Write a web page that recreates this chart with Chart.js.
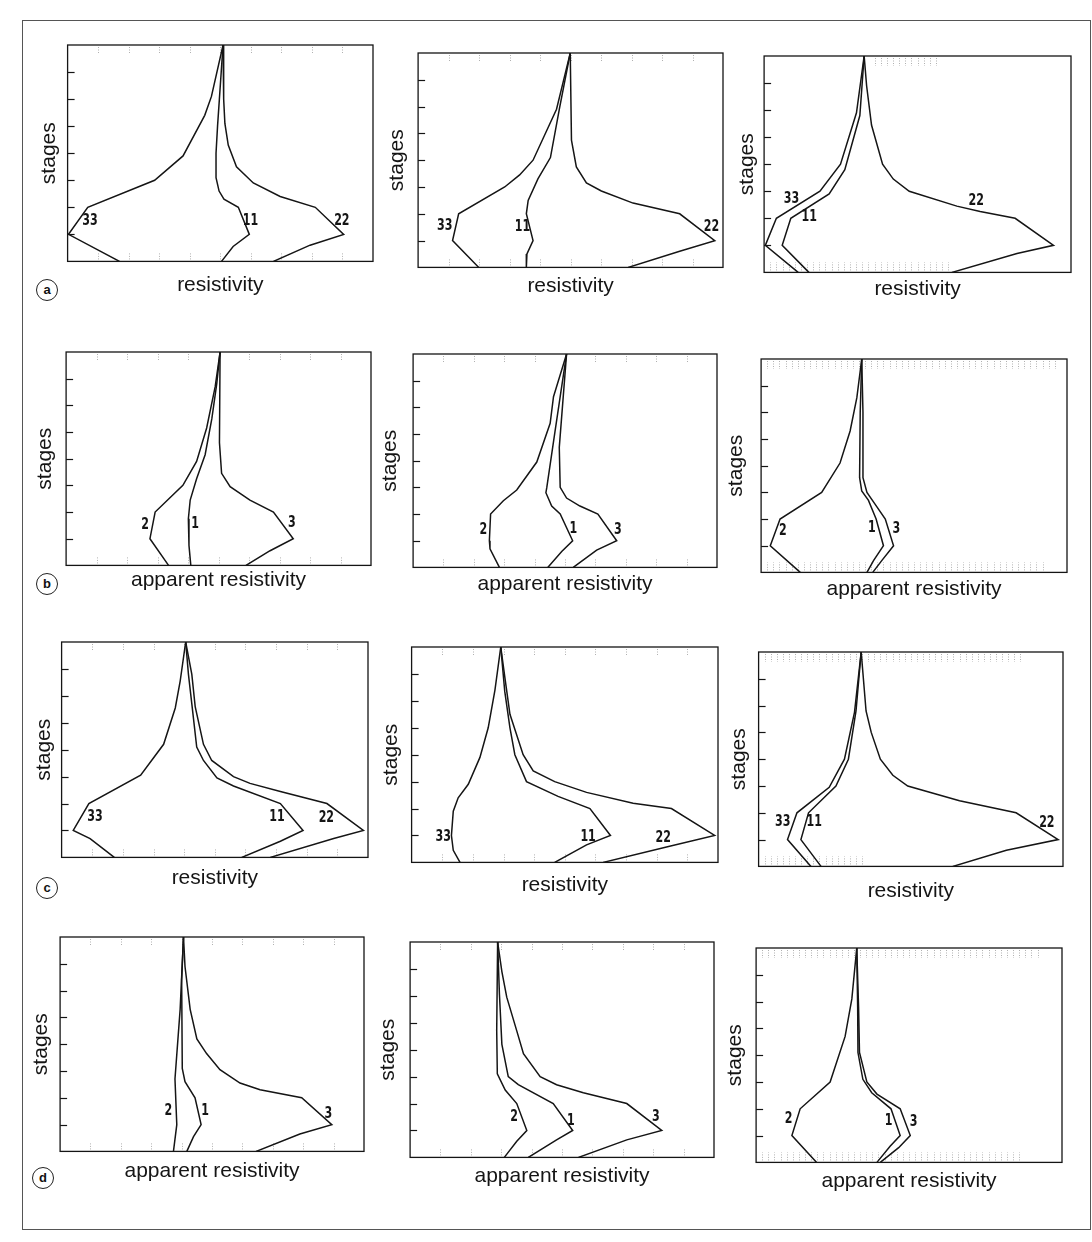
<!DOCTYPE html>
<html>
<head>
<meta charset="utf-8">
<script src="https://cdn.jsdelivr.net/npm/chart.js@4.4.1/dist/chart.umd.min.js"></script>
<style>
  html, body { margin: 0; background: #fff; }
  body { width: 1092px; height: 1242px; position: relative; overflow: hidden; }
  .frame { position: absolute; left: 22px; top: 20px; width: 1067px; height: 1208px; border: 1px solid #555; }
  .tag { position: absolute; width: 20px; height: 20px; border: 1.4px solid #222; border-radius: 50%;
         font: bold 13px "Liberation Sans", Arial, sans-serif; color: #111; text-align: center; line-height: 19px; }
</style>
</head>
<body>
<div class="frame"></div>
<div class="tag" style="left:36px;top:279px">a</div>
<div class="tag" style="left:36px;top:573px">b</div>
<div class="tag" style="left:36px;top:877px">c</div>
<div class="tag" style="left:32px;top:1167px">d</div>
<script>
// curve names
const NAMES_RES = ['33', '11', '22'];
const NAMES_APP = ['2', '1', '3'];

// axis titles
const TITLE_Y = 'stages';
const TITLE_RES = 'resistivity';
const TITLE_APP = 'apparent resistivity';

// stage axis ticks 0..8, resistivity axis 0..100 (arbitrary units)
const STAGE_TICKS = [0, 1, 2, 3, 4, 5, 6, 7, 8];

// each curve: [stage, resistivity]
// row a
const a1_33 = [[8,50.9],[6.1,47.1],[5.4,44.9],[3.9,37.8],[3,28.5],[2,6.6],[1,0.3],[0,17.0]];
const a1_11 = [[8,50.9],[7,50.3],[6,49.7],[5,49.1],[4,48.6],[3.1,48.6],[2.6,49.6],[2.3,51.2],[2,55.9],[1,59.5],[0.55,54.2],[0,50.4]];
const a1_22 = [[8,50.9],[6,51.1],[5.1,51.5],[4.3,52.6],[3.5,55.3],[2.9,60.8],[2.4,69.6],[2,81.1],[1,90.4],[0.6,79.4],[0,67.4]];

const a2_33 = [[8,49.9],[5.9,45.4],[4,37.7],[3.45,33.3],[3,28.4],[2,13.3],[1,11.3],[0,19.9]];
const a2_11 = [[8,49.9],[5.95,46.4],[4.1,43.4],[3.3,39.3],[2.5,36.1],[2,35.5],[1,37.7],[0.5,35.7],[0,35.5]];
const a2_22 = [[8,49.9],[4.75,50.3],[3.75,51.9],[3.15,55.2],[2.85,60.1],[2.4,70.5],[2,85.8],[1,97.3],[0.6,85.8],[0,68.9]];

const a3_33 = [[8,32.6],[5.9,30.1],[4,24.9],[3,18.2],[2,4.0],[1,0.4],[0,11.1]];
const a3_11 = [[8,32.6],[5.8,31.2],[3.8,26.3],[2.9,21.2],[2,8.7],[1,5.9],[0,14.6]];
const a3_22 = [[8,32.6],[6.9,33.4],[5.45,35.0],[4,38.6],[3.45,42.1],[3,47.3],[2.45,62.8],[2.25,70.4],[2,81.8],[1,94.3],[0.7,82.4],[0,61.2]];

// row b
const b1_2 = [[8,50.5],[6.7,48.9],[5.15,46.1],[3.9,42.8],[3,38.3],[2,29.2],[1,27.5],[0,33.6]];
const b1_1 = [[8,50.5],[6.8,49.4],[5.5,47.8],[4.15,45.6],[3.25,42.8],[2.45,40.7],[1.75,40.1],[0.75,40.3],[0,40.9]];
const b1_3 = [[8,50.5],[4.6,50.3],[3.45,51.0],[2.95,53.8],[2.45,60.3],[2,68.0],[1,74.5],[0.55,66.9],[0,59.0]];

const b2_2 = [[8,50.5],[6.4,46.2],[5.4,45.1],[3.95,40.7],[2.9,34.1],[2.5,29.7],[2,25.5],[1,25.1],[0.7,25.3],[0,28.4]];
const b2_1 = [[8,50.5],[6.4,48.4],[5.1,46.7],[3,44.0],[2.8,43.7],[2.3,45.6],[2,48.4],[1,52.5],[0.6,48.9],[0,44.3]];
const b2_3 = [[8,50.5],[4.5,48.1],[3,48.4],[2.6,50.5],[2.3,54.9],[2,60.8],[1,67.0],[0.65,60.4],[0,52.7]];

const b3_2 = [[8,32.9],[6.55,31.3],[5.3,29.1],[4.1,25.8],[3,19.8],[2,6.2],[1,3.0],[0,12.8]];
const b3_1 = [[8,32.9],[6,32.4],[3.55,32.2],[3.05,32.9],[2.7,35.1],[2,37.6],[1,40.0],[0.45,36.8],[0,34.6]];
const b3_3 = [[8,32.9],[6,33.3],[3.55,33.3],[3,34.6],[2.55,37.3],[2,40.6],[1,43.3],[0.45,39.5],[0,36.5]];

// row c
const c1_33 = [[8,40.5],[6.55,38.7],[5.55,37.1],[4.2,33.3],[3.05,25.8],[2,8.9],[1,3.8],[0.7,9.3],[0,17.2]];
const c1_11 = [[8,40.5],[6.8,41.4],[5.7,42.5],[4.1,44.1],[3.6,46.3],[2.95,50.7],[2.65,56.1],[2,71.4],[1,78.8],[0.6,71.4],[0,58.8]];
const c1_22 = [[8,40.5],[6.8,42.5],[5.6,43.6],[4.2,46.3],[3.6,49.0],[3,56.1],[2.75,61.5],[2.45,71.4],[2,86.6],[1,98.5],[0.7,88.8],[0,68.1]];

const c2_33 = [[8,29.1],[6.4,27.2],[5,25.0],[3.9,22.3],[2.9,18.5],[2.4,15.2],[1.9,13.6],[1,13.0],[0.45,13.6],[0,15.8]];
const c2_11 = [[8,29.1],[6.35,30.4],[5,32.1],[4,33.7],[3,37.5],[2.45,47.8],[2,58.2],[1,64.9],[0.65,57.1],[0,46.7]];
const c2_22 = [[8,29.1],[6.9,30.4],[5.5,32.1],[4,36.4],[3.4,39.7],[3,46.7],[2.6,57.1],[2.2,72.3],[2,84.8],[1,98.9],[0.6,84.2],[0,62.5]];

const c3_33 = [[8,33.7],[5.75,31.5],[4,28.2],[2.95,23.2],[2,12.6],[1,9.5],[0,17.2]];
const c3_11 = [[8,33.7],[5.8,32.0],[4,29.5],[3,25.4],[2,16.4],[1,13.9],[0,20.5]];
const c3_22 = [[8,33.7],[5.8,35.3],[5,37.0],[4,40.0],[3.4,44.1],[3,49.0],[2.45,66.0],[2,84.6],[1,98.4],[0.6,81.4],[0,63.8]];

// row d
const d1_2 = [[8,40.6],[5.3,39.5],[2.7,37.8],[1,38.4],[0,37.3]];
const d1_1 = [[8,40.6],[6.4,40.0],[3.1,40.2],[2.6,41.1],[2,44.4],[1,46.4],[0.55,43.9],[0,41.7]];
const d1_3 = [[8,40.6],[6.9,41.1],[5.3,42.8],[4.2,45.0],[3.65,48.2],[3.05,52.6],[2.55,59.2],[2.3,65.8],[2,79.5],[1,89.4],[0.65,78.9],[0,64.5]];

const d2_2 = [[8,28.8],[4.7,28.5],[3.1,28.7],[2.5,31.3],[2,35.1],[1,38.4],[0.6,35.1],[0,31.0]];
const d2_1 = [[8,28.8],[6.05,29.4],[4.2,30.2],[3,32.3],[2.7,35.6],[2,47.1],[1,53.5],[0.65,48.2],[0,38.9]];
const d2_3 = [[8,28.8],[6.9,30.2],[5.95,31.8],[4.7,35.1],[3.85,37.3],[3,42.8],[2.7,48.2],[2.4,57.0],[2,71.3],[1,82.8],[0.65,71.3],[0,55.4]];

const d3_2 = [[8,32.9],[6.1,31.3],[4.7,29.1],[3,24.2],[2,14.4],[1,11.7],[0,19.8]];
const d3_1 = [[8,32.9],[5.8,33.2],[4.1,33.3],[3.1,34.9],[2.6,37.8],[2,44.1],[1,47.1],[0.6,43.8],[0,39.5]];
const d3_3 = [[8,32.9],[5.8,33.5],[4.1,33.8],[3,36.2],[2.55,39.5],[2,47.1],[1,50.4],[0.55,46.6],[0,40.6]];

// panel layout: box = plot frame [left, top, right, bottom] in page px,
// gy / gx = distance of the axis title centre from the frame, lab = [resistivity, stage] of each curve label
const PANELS = [
  { box: [68, 45, 373, 261],   gy: 18,   gx: 24, xt: TITLE_RES, names: NAMES_RES, curves: [a1_33, a1_11, a1_22], lab: [[7.3,1.5],[59.9,1.5],[89.8,1.5]],   step: 10, dots: [[5,95],[5,95]] },
  { box: [418, 53, 723, 267],  gy: 20.5, gx: 19, xt: TITLE_RES, names: NAMES_RES, curves: [a2_33, a2_11, a2_22], lab: [[8.7,1.53],[34.2,1.5],[96.2,1.5]], step: 10, dots: [[5,95],[5,95]] },
  { box: [764, 56, 1071, 272], gy: 16.5, gx: 17, xt: TITLE_RES, names: NAMES_RES, curves: [a3_33, a3_11, a3_22], lab: [[8.9,2.7],[14.7,2.05],[69.1,2.65]], step: 2,  dots: [[36,56],[2,60]] },

  { box: [66, 352, 371, 565],  gy: 20.5, gx: 15, xt: TITLE_APP, names: NAMES_APP, curves: [b1_2, b1_1, b1_3], lab: [[25.9,1.5],[42.3,1.55],[74.0,1.6]],  step: 10, dots: [[5,95],[5,95]] },
  { box: [413, 354, 717, 567], gy: 22.5, gx: 17, xt: TITLE_APP, names: NAMES_APP, curves: [b2_2, b2_1, b2_3], lab: [[23.1,1.4],[52.7,1.45],[67.4,1.4]],  step: 10, dots: [[5,95],[5,95]] },
  { box: [761, 359, 1067, 572],gy: 24.5, gx: 17, xt: TITLE_APP, names: NAMES_APP, curves: [b3_2, b3_1, b3_3], lab: [[7.1,1.56],[36.2,1.65],[44.2,1.62]], step: 2,  dots: [[2,96],[2,92]] },

  { box: [62, 642, 368, 857],  gy: 17,   gx: 21, xt: TITLE_RES, names: NAMES_RES, curves: [c1_33, c1_11, c1_22], lab: [[10.9,1.5],[70.3,1.5],[86.4,1.45]], step: 10, dots: [[5,95],[5,95]] },
  { box: [412, 647, 718, 862], gy: 20,   gx: 23, xt: TITLE_RES, names: NAMES_RES, curves: [c2_33, c2_11, c2_22], lab: [[10.3,0.95],[57.6,0.95],[82.1,0.9]], step: 10, dots: [[5,95],[5,95]] },
  { box: [759, 652, 1063, 866],gy: 19,   gx: 25, xt: TITLE_RES, names: NAMES_RES, curves: [c3_33, c3_11, c3_22], lab: [[7.9,1.65],[18.3,1.65],[94.7,1.6]], step: 2,  dots: [[2,86],[2,34]] },

  { box: [60, 937, 364, 1151], gy: 18.5, gx: 20, xt: TITLE_APP, names: NAMES_APP, curves: [d1_2, d1_1, d1_3], lab: [[35.6,1.5],[47.7,1.5],[88.3,1.4]],   step: 10, dots: [[5,95],[5,95]] },
  { box: [410, 942, 714, 1157],gy: 21.5, gx: 19, xt: TITLE_APP, names: NAMES_APP, curves: [d2_2, d2_1, d2_3], lab: [[34.2,1.5],[52.9,1.35],[80.9,1.5]],  step: 10, dots: [[5,95],[5,95]] },
  { box: [756, 948, 1062, 1162],gy: 20.5, gx: 19, xt: TITLE_APP, names: NAMES_APP, curves: [d3_2, d3_1, d3_3], lab: [[10.6,1.6],[43.3,1.55],[51.5,1.5]], step: 2,  dots: [[2,92],[2,87]] },
];

const INK = '#151515';
const TITLE_FONT = { family: '"Liberation Sans", Arial, sans-serif', size: 21, lineHeight: 1.2 };
const LH = TITLE_FONT.size * TITLE_FONT.lineHeight;

// frame, inner stage ticks and the faint dotted marks along top / bottom
const frameTicks = {
  id: 'frameTicks',
  beforeDatasetsDraw(chart, args, opts) {
    const { ctx, chartArea: a, scales: { x, y } } = chart;
    ctx.save();
    ctx.strokeStyle = '#b0b0b0';
    ctx.lineWidth = 1;
    ctx.setLineDash([1, 1.5]);
    const [top, bot] = opts.dots;
    x.ticks.forEach((t) => {
      const px = Math.round(x.getPixelForValue(t.value)) + 0.5;
      if (t.value >= top[0] && t.value <= top[1]) {
        ctx.beginPath(); ctx.moveTo(px, a.top + 2); ctx.lineTo(px, a.top + opts.len); ctx.stroke();
      }
      if (t.value >= bot[0] && t.value <= bot[1]) {
        ctx.beginPath(); ctx.moveTo(px, a.bottom - 2); ctx.lineTo(px, a.bottom - opts.len); ctx.stroke();
      }
    });
    ctx.setLineDash([]);
    ctx.strokeStyle = INK;
    ctx.lineWidth = 1.2;
    y.ticks.forEach((t) => {
      if (t.value <= y.min || t.value >= y.max) return;
      const py = Math.round(y.getPixelForValue(t.value)) + 0.5;
      ctx.beginPath(); ctx.moveTo(a.left, py); ctx.lineTo(a.left + 7, py); ctx.stroke();
    });
    ctx.lineWidth = 1.3;
    ctx.strokeRect(a.left, a.top, a.width, a.height);
    ctx.restore();
  },
};

// curve numbers next to the lines
const curveLabels = {
  id: 'curveLabels',
  afterDatasetsDraw(chart) {
    const { ctx, scales: { x, y } } = chart;
    ctx.save();
    ctx.fillStyle = INK;
    ctx.font = 'bold 15px "Liberation Sans Narrow", "DejaVu Sans Condensed", sans-serif';
    ctx.textAlign = 'center';
    ctx.textBaseline = 'middle';
    chart.data.datasets.forEach((ds) => {
      const [r, s] = ds.labelAt;
      ctx.save();
      ctx.translate(x.getPixelForValue(r), y.getPixelForValue(s));
      ctx.scale(0.82, 1);
      ctx.fillText(ds.label, 0, 0);
      ctx.restore();
    });
    ctx.restore();
  },
};

const NO_GRID = { display: false, drawTicks: false, tickLength: 0 };

function makeChart(p, w, h, padX, padY) {
  const canvas = document.createElement('canvas');
  canvas.width = w;
  canvas.height = h;
  canvas.style.cssText = `position:absolute;left:0;top:0;width:${w}px;height:${h}px;`;
  document.body.appendChild(canvas);
  const chart = new Chart(canvas.getContext('2d'), {
    type: 'scatter',
    data: {
      datasets: p.curves.map((c, i) => ({
        label: p.names[i],
        labelAt: p.lab[i],
        data: c.map(([s, r]) => ({ x: r, y: s })),
        showLine: true,
        borderColor: INK,
        borderWidth: 1.5,
        pointRadius: 0,
        tension: 0,
      })),
    },
    options: {
      responsive: false,
      maintainAspectRatio: false,
      animation: false,
      events: [],
      layout: { padding: { top: 6, right: 8, bottom: 6, left: 2 } },
      plugins: {
        legend: { display: false },
        tooltip: { enabled: false },
        frameTicks: { dots: p.dots, len: p.step === 2 ? 10 : 8 },
      },
      scales: {
        x: {
          type: 'linear', min: 0, max: 100,
          ticks: { display: false, stepSize: p.step, maxTicksLimit: 101 },
          grid: NO_GRID, border: { display: false },
          title: { display: true, text: p.xt, color: INK, font: TITLE_FONT, padding: { top: padX, bottom: 0 } },
        },
        y: {
          type: 'linear', min: STAGE_TICKS[0], max: STAGE_TICKS[STAGE_TICKS.length - 1],
          afterBuildTicks: (scale) => { scale.ticks = STAGE_TICKS.map((v) => ({ value: v })); },
          ticks: { display: false },
          grid: NO_GRID, border: { display: false },
          title: { display: true, text: TITLE_Y, color: INK, font: TITLE_FONT, padding: { top: 0, bottom: padY } },
        },
      },
    },
    plugins: [frameTicks, curveLabels],
  });
  return { canvas, chart };
}

PANELS.forEach((p) => {
  const [L, T, R, B] = p.box;
  const padY = Math.max(0, p.gy - LH / 2);
  const padX = Math.max(0, p.gx - LH / 2);
  let w = Math.round(R - L + LH + padY + 10);
  let h = Math.round(B - T + LH + padX + 12);
  let { canvas, chart } = makeChart(p, w, h, padX, padY);
  // second pass: grow the canvas so the plot frame gets the original size
  const dw = Math.round((R - L) - chart.chartArea.width);
  const dh = Math.round((B - T) - chart.chartArea.height);
  if (dw !== 0 || dh !== 0) {
    chart.destroy();
    canvas.remove();
    ({ canvas, chart } = makeChart(p, w + dw, h + dh, padX, padY));
  }
  canvas.style.left = (L - chart.chartArea.left) + 'px';
  canvas.style.top = (T - chart.chartArea.top) + 'px';
});
</script>
</body>
</html>
